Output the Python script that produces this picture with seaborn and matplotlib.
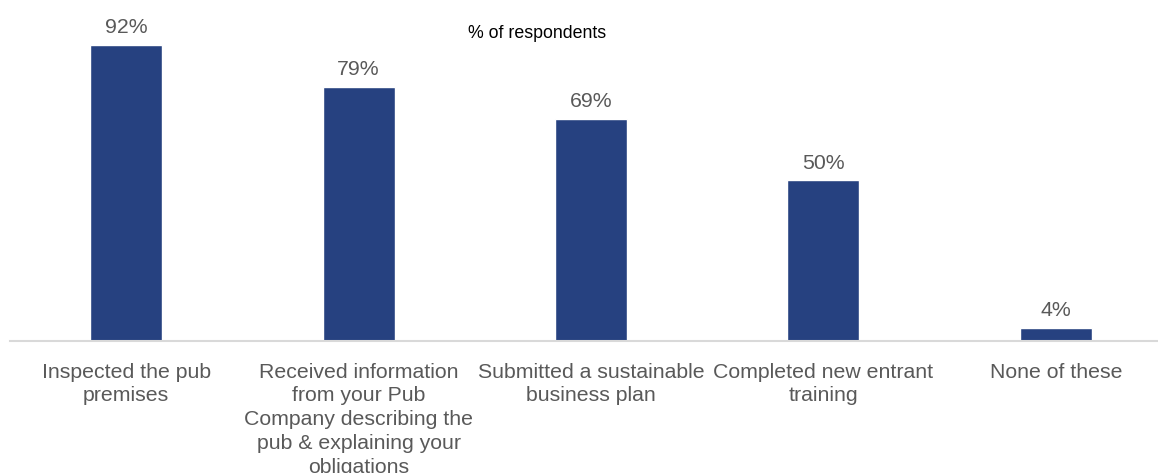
import matplotlib
matplotlib.use("Agg")
import matplotlib.pyplot as plt
import seaborn as sns
import pandas as pd

categories = [
    "Inspected the pub\npremises",
    "Received information\nfrom your Pub\nCompany describing the\npub & explaining your\nobligations",
    "Submitted a sustainable\nbusiness plan",
    "Completed new entrant\ntraining",
    "None of these",
]
values = [92, 79, 69, 50, 4]
value_labels = ["92%", "79%", "69%", "50%", "4%"]

sns.set_theme(style="white")
plt.rcParams["font.family"] = ["Liberation Sans", "DejaVu Sans"]

text_color = "#595959"
bar_color = "#264180"

df = pd.DataFrame({"category": categories, "value": values})

fig = plt.figure(figsize=(11.58, 4.73), dpi=100)
ax = fig.add_axes([10 / 1158, (473 - 341) / 473, 1162 / 1158, 341 / 473])

sns.barplot(data=df, x="category", y="value", color=bar_color, width=0.31,
            saturation=1, ax=ax)

ax.set_ylim(0, 106)
ax.set_xlim(-0.5, len(categories) - 0.5)
ax.set_xlabel("")
ax.set_ylabel("")
ax.set_yticks([])
for side in ["top", "right", "left"]:
    ax.spines[side].set_visible(False)
ax.spines["bottom"].set_color("#D9D9D9")
ax.spines["bottom"].set_linewidth(1.5)
ax.tick_params(axis="x", length=0, pad=15.5, labelsize=15.3, labelcolor=text_color)
for lbl in ax.get_xticklabels():
    lbl.set_linespacing(1.32)

for bar, lab in zip(ax.patches, value_labels):
    ax.annotate(lab, (bar.get_x() + bar.get_width() / 2, bar.get_height()),
                xytext=(0, 5.5), textcoords="offset points", ha="center",
                va="bottom", fontsize=15.3, color=text_color)

fig.text(537 / 1158, 1 - 33 / 473, "% of respondents", ha="center",
         va="center", fontsize=12.8, color="black")

fig.savefig("out.png", dpi=100)
